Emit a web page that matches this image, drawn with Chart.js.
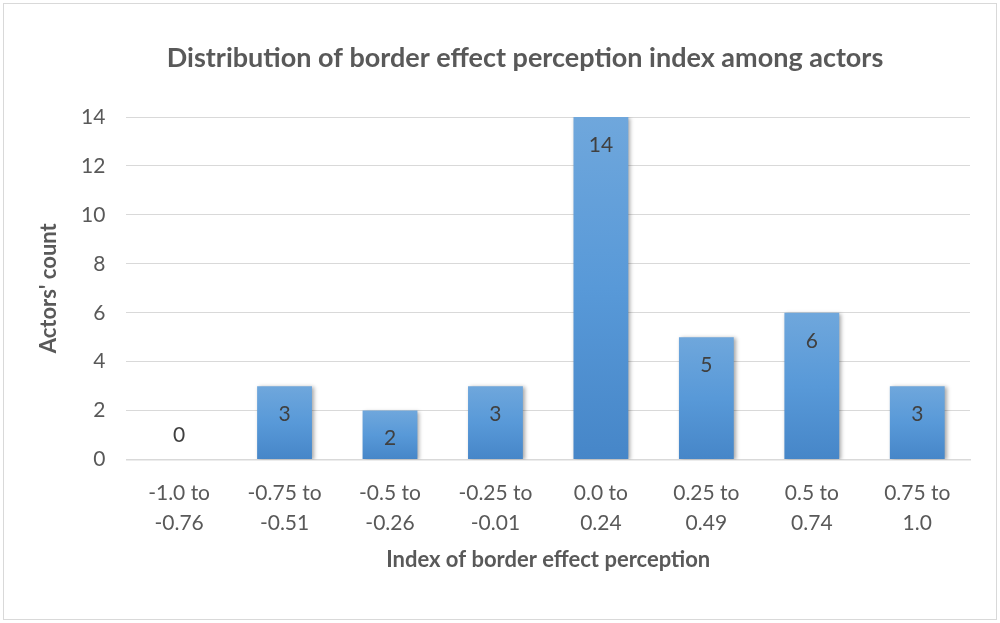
<!DOCTYPE html>
<html>
<head>
<meta charset="utf-8">
<script src="https://cdn.jsdelivr.net/npm/chart.js@4"></script>
<style>
  html, body { margin: 0; padding: 0; background: #fff; }
</style>
</head>
<body>
<canvas id="chart" width="1000" height="623"></canvas>
<script>
var categories = [["-1.0 to", "-0.76"], ["-0.75 to", "-0.51"], ["-0.5 to", "-0.26"], ["-0.25 to", "-0.01"],
                  ["0.0 to", "0.24"], ["0.25 to", "0.49"], ["0.5 to", "0.74"], ["0.75 to", "1.0"]];
var counts = [0, 3, 2, 3, 14, 5, 6, 3];
var titleText = "Distribution of border effect perception index among actors";
var xTitle = "Index of border effect perception";
var yTitle = "Actors' count";

var FONT = "Lato, 'Open Sans', sans-serif";
var TEXT = "#595959";

// frame + title
var framePlugin = {
  id: "frame",
  beforeDraw: function(chart) {
    var c = chart.ctx;
    c.save();
    c.fillStyle = "#fff";
    c.fillRect(0, 0, chart.width, chart.height);
    c.strokeStyle = "#d9d9d9";
    c.lineWidth = 1;
    c.strokeRect(3.5, 3.5, 993, 616);
    c.restore();
  },
  afterDraw: function(chart) {
    var c = chart.ctx;
    c.save();
    c.font = "bold 27px " + FONT;
    c.fillStyle = TEXT;
    c.textAlign = "center";
    c.textBaseline = "middle";
    c.fillText(titleText, 525, 58);
    c.restore();
  }
};

// soft shadow under bars
var shadowPlugin = {
  id: "shadow",
  beforeDatasetsDraw: function(chart) {
    var c = chart.ctx;
    c.save();
    c.shadowColor = "rgba(0,0,0,0.35)";
    c.shadowBlur = 4;
    c.shadowOffsetX = 2;
    c.shadowOffsetY = 1;
  },
  afterDatasetsDraw: function(chart) {
    chart.ctx.restore();
  }
};

// value labels inside the bar top
var labelPlugin = {
  id: "valueLabels",
  afterDatasetsDraw: function(chart) {
    var c = chart.ctx;
    var meta = chart.getDatasetMeta(0);
    c.save();
    c.font = "21px " + FONT;
    c.fillStyle = "#404040";
    c.textAlign = "center";
    c.textBaseline = "middle";
    meta.data.forEach(function(bar, i) {
      var v = counts[i];
      var y = v > 0 ? bar.y + 28 : bar.y - 24;
      c.fillText(String(v), bar.x, y);
    });
    c.restore();
  }
};

new Chart(document.getElementById("chart"), {
  type: "bar",
  data: {
    labels: categories,
    datasets: [{
      data: counts,
      backgroundColor: function(ctx) {
        var chart = ctx.chart;
        if (!chart.chartArea) return "#5b9bd5";
        var y = chart.scales.y;
        var top = y.getPixelForValue(counts[ctx.dataIndex]);
        var bot = y.getPixelForValue(0);
        if (bot - top < 1) return "#5b9bd5";
        var g = chart.ctx.createLinearGradient(0, top, 0, bot);
        g.addColorStop(0, "#6fa7dc");
        g.addColorStop(0.5, "#5899d8");
        g.addColorStop(1, "#4686c8");
        return g;
      },
      borderWidth: 0,
      barPercentage: 0.52,
      categoryPercentage: 1
    }]
  },
  options: {
    responsive: false,
    animation: false,
    devicePixelRatio: 1,
    layout: { padding: { left: 38, right: 30, top: 117, bottom: 50 } },
    plugins: {
      legend: { display: false },
      title: { display: false },
      tooltip: { enabled: false }
    },
    scales: {
      x: {
        grid: { display: false, drawTicks: false },
        border: { color: "#d9d9d9", width: 1.5 },
        ticks: { color: TEXT, font: { family: FONT, size: 21, lineHeight: 1.43 }, padding: 19, maxRotation: 0, autoSkip: false },
        title: { display: true, text: xTitle, color: TEXT, font: { family: FONT, size: 22, weight: "bold" }, padding: { top: -11, bottom: 0 } }
      },
      y: {
        min: 0,
        max: 14,
        ticks: { stepSize: 2, color: TEXT, font: { family: FONT, size: 21 }, padding: 21 },
        grid: { color: "#d9d9d9", lineWidth: 1, drawTicks: false },
        border: { display: false },
        title: { display: true, text: yTitle, color: TEXT, font: { family: FONT, size: 22, weight: "bold", lineHeight: 1 }, padding: { top: 0, bottom: 0 } }
      }
    }
  },
  plugins: [framePlugin, shadowPlugin, labelPlugin]
});
</script>
</body>
</html>
